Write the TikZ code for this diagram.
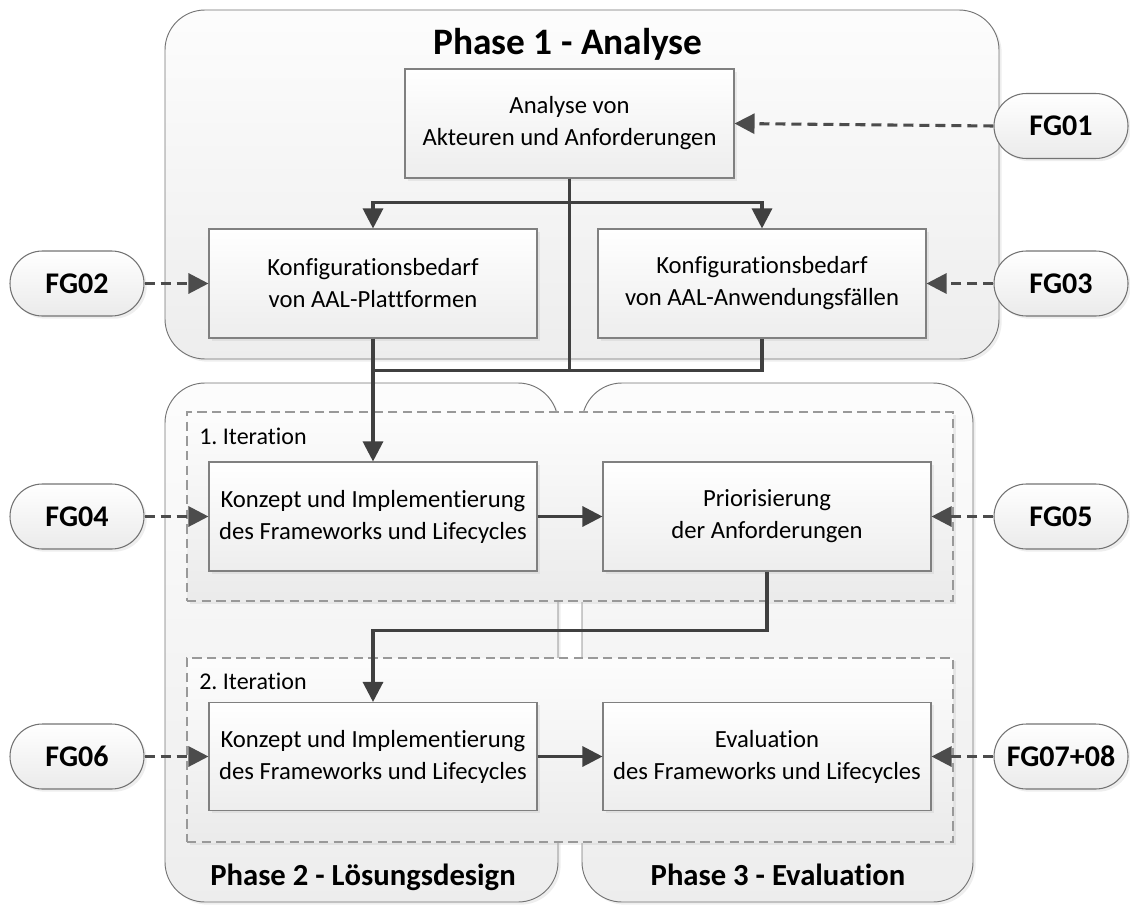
\documentclass[tikz,border=0pt]{standalone}
\usepackage{fontspec}
\setmainfont{Carlito}[Ligatures=NoCommon]
\frenchspacing
\usetikzlibrary{arrows.meta,shapes.misc,shadows}
\begin{document}
\begin{tikzpicture}[x=0.75pt,y=-0.75pt,
  wh/.style 2 args={minimum width=#1*0.75pt, minimum height=#2*0.75pt},
  softshadow/.style={drop shadow={shadow xshift=2pt,shadow yshift=-2pt,opacity=0.22,fill=black!30}},
  phase/.style={rectangle, rounded corners=30pt, draw=black!55, line width=0.7pt,
    top color=black!1, bottom color=black!7, softshadow},
  iter/.style={rectangle, draw=black!40, line width=0.9pt, dash pattern=on 7pt off 4pt,
    top color=black!1, bottom color=black!8, softshadow},
  stepbox/.style={rectangle, draw=black!50, line width=0.8pt, top color=white, bottom color=black!7,
    softshadow, align=center, inner sep=0pt, font=\fontsize{18.5}{24}\selectfont},
  fgnode/.style={rounded rectangle, draw=black!55, line width=0.8pt, top color=white, bottom color=black!8,
    softshadow, inner sep=0pt, wh={134}{65}, font=\fontsize{22.5}{27}\selectfont\bfseries},
  title/.style={anchor=base, inner sep=0pt, font=\fontsize{28}{32}\selectfont\bfseries},
  subtitle/.style={anchor=base, inner sep=0pt, font=\fontsize{23}{27}\selectfont\bfseries},
  iterlabel/.style={anchor=west, inner sep=0pt, font=\fontsize{18}{22}\selectfont},
  link/.style={draw=black!75, line width=2.3pt},
  flow/.style={link, -{Triangle[length=15pt,width=15pt]}},
  feed/.style={draw=black!70, line width=2.3pt, dash pattern=on 7.5pt off 4.5pt,
    -{Triangle[length=15pt,width=15pt]}}
]
\useasboundingbox (0,0) rectangle (1130,906);

% phase containers
\node[phase, wh={834}{349}] (ph1) at (582,184.5) {};
\node[phase, wh={393}{519}] (ph2) at (361.5,642.5) {};
\node[phase, wh={391}{519}] (ph3) at (777.5,642.5) {};

% iteration frames
\node[iter, wh={766}{189}] (it1) at (570,506.5) {};
\node[iter, wh={766}{184}] (it2) at (570,750) {};

% titles
\node[title] (t1) at (568,55) {Phase 1 - Analyse};
\node[subtitle] (t2) at (363,885) {Phase 2 - Lösungsdesign};
\node[subtitle] (t3) at (778,885) {Phase 3 - Evaluation};
\node[iterlabel] (l1) at (199,436) {1. Iteration};
\node[iterlabel] (l2) at (199,681) {2. Iteration};

% process steps
\node[stepbox, wh={329}{109}] (A) at (569.5,123.5) {Analyse von\\Akteuren und Anforderungen};
\node[stepbox, wh={328}{109}] (B) at (373,283.5) {Konfigurationsbedarf\\von AAL-Plattformen};
\node[stepbox, wh={328}{109}] (C) at (762,283.5) {Konfigurationsbedarf\\von AAL-Anwendungsfällen};
\node[stepbox, wh={328}{109}] (D) at (373,516.5) {Konzept und Implementierung\\des Frameworks und Lifecycles};
\node[stepbox, wh={328}{109}] (E) at (767,516.5) {Priorisierung\\der Anforderungen};
\node[stepbox, wh={328}{108}] (F) at (373,756.5) {Konzept und Implementierung\\des Frameworks und Lifecycles};
\node[stepbox, wh={328}{108}] (G) at (767,756.5) {Evaluation\\des Frameworks und Lifecycles};

% input groups
\node[fgnode] (fg01) at (1061,126) {FG01};
\node[fgnode] (fg02) at (77,283.5) {FG02};
\node[fgnode] (fg03) at (1061,283.5) {FG03};
\node[fgnode] (fg04) at (77,516.5) {FG04};
\node[fgnode] (fg05) at (1061,516.5) {FG05};
\node[fgnode] (fg06) at (77,756.5) {FG06};
\node[fgnode] (fg78) at (1061,756.5) {FG07+08};

% control flow
\draw[flow] (A.south) -- ++(0,24) -| (B.north);
\draw[flow] (A.south) -- ++(0,24) -| (C.north);
\draw[link] (A.south) -- ++(0,192);
\draw[link] (B.south) -- ++(0,32) -| (C.south);
\draw[flow] (B.south) -- (D.north);
\draw[flow] (D.east) -- (E.west);
\draw[flow] (E.south) -- ++(0,59) -| (F.north);
\draw[flow] (F.east) -- (G.west);

% inputs from the focus groups
\draw[feed] (fg01.west) -- (A.east);
\draw[feed] (fg02.east) -- (B.west);
\draw[feed] (fg03.west) -- (C.east);
\draw[feed] (fg04.east) -- (D.west);
\draw[feed] (fg05.west) -- (E.east);
\draw[feed] (fg06.east) -- (F.west);
\draw[feed] (fg78.west) -- (G.east);
\end{tikzpicture}
\end{document}
